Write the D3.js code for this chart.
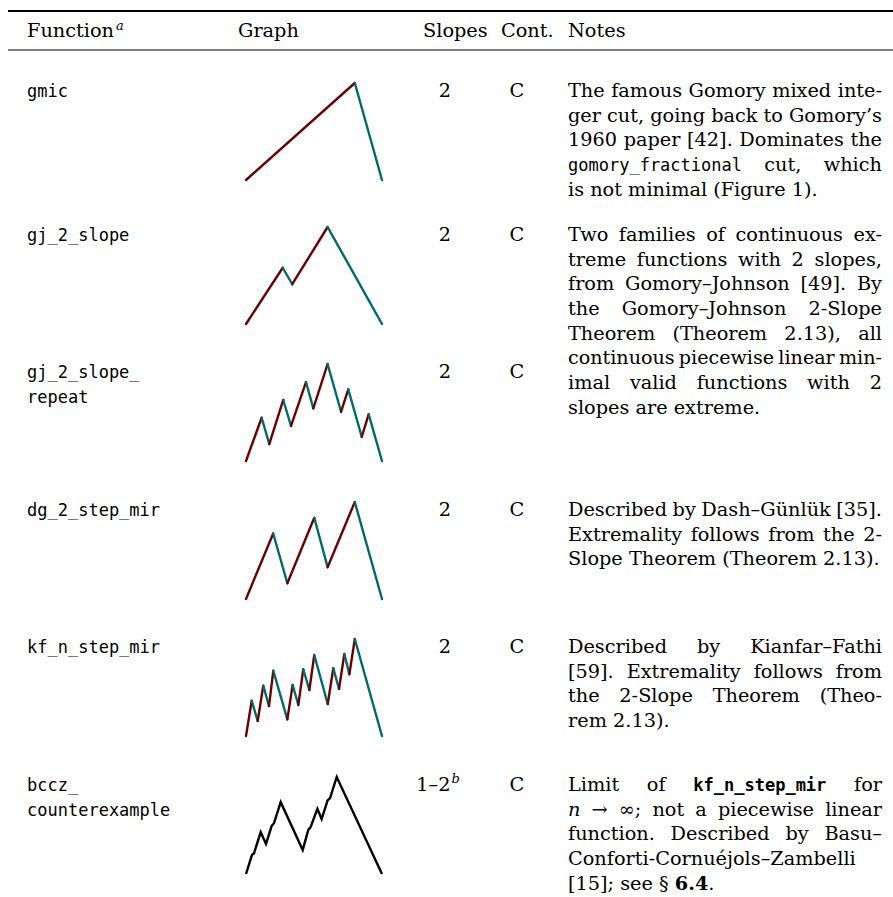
<!DOCTYPE html>
<html>
<head>
<meta charset="utf-8">
<script src="https://cdn.jsdelivr.net/npm/d3@7"></script>
<style>
  body { margin: 0; background: #fff; }
  text { font-family: "DejaVu Serif", serif; font-size: 19.3px; fill: #000; }
  .tt { font-family: "DejaVu Sans Mono", monospace; font-size: 17px; }
  .ttb { font-family: "DejaVu Sans Mono", monospace; font-size: 17px; font-weight: bold; }
  .it { font-style: italic; }
  .bf { font-weight: bold; }
</style>
</head>
<body>
<svg id="chart"></svg>
<script>
// table columns
const headers = ["Function", "Graph", "Slopes", "Cont.", "Notes"];
const functionNames = [["gmic"], ["gj_2_slope"], ["gj_2_slope_", "repeat"], ["dg_2_step_mir"], ["kf_n_step_mir"], ["bccz_", "counterexample"]];
const slopeCounts = ["2", "2", "2", "2", "2", "1–2"];
const slopeMarks = ["", "", "", "", "", "b"];
const continuity = ["C", "C", "C", "C", "C", "C"];

// function graphs, x and y in [0, 1]
const gmicPts = [[0, 0], [0.8, 1], [1, 0]];
const gjSlopePts = [[0, 0], [0.27, 0.58], [0.34, 0.41], [0.6, 1], [1, 0]];
const gjSlopeRepeatPts = [[0, 0], [0.115, 0.446], [0.171, 0.175], [0.274, 0.629], [0.331, 0.361], [0.441, 0.814],
    [0.495, 0.543], [0.6, 1], [0.699, 0.508], [0.752, 0.739], [0.851, 0.25], [0.902, 0.481], [1, 0]];
const dgStepMirPts = [[0, 0], [0.2, 0.675], [0.304, 0.162], [0.502, 0.837], [0.6, 0.328], [0.8, 1], [1, 0]];
const kfStepMirPts = [[0, 0], [0.042, 0.364], [0.086, 0.155], [0.127, 0.519], [0.169, 0.309], [0.201, 0.673],
    [0.304, 0.172], [0.343, 0.526], [0.385, 0.32], [0.421, 0.688], [0.466, 0.474], [0.502, 0.835], [0.601, 0.33],
    [0.642, 0.698], [0.684, 0.485], [0.723, 0.845], [0.76, 0.636], [0.8, 1], [1, 0]];
const bcczPts = [[0, 0], [0.044, 0.197], [0.059, 0.214], [0.108, 0.431], [0.147, 0.31], [0.189, 0.497], [0.206, 0.524],
    [0.255, 0.741], [0.417, 0.248], [0.458, 0.455], [0.475, 0.483], [0.525, 0.672], [0.556, 0.566], [0.6, 0.759],
    [0.618, 0.783], [0.667, 1], [1, 0]];
const graphs = [gmicPts, gjSlopePts, gjSlopeRepeatPts, dgStepMirPts, kfStepMirPts, bcczPts];
const graphColored = [true, true, true, true, true, false];

// notes (`mono`, @bold mono@, *italic*, #bold#)
const notesGmic = ["The famous Gomory mixed inte-", "ger cut, going back to Gomory’s", "1960 paper [42]. Dominates the",
    "`gomory_fractional` cut, which", "is not minimal (Figure 1)."];
const notesGj = ["Two families of continuous ex-", "treme functions with 2 slopes,", "from Gomory–Johnson [49]. By",
    "the Gomory–Johnson 2-Slope", "Theorem (Theorem 2.13), all", "continuous piecewise linear min-",
    "imal valid functions with 2", "slopes are extreme."];
const notesDg = ["Described by Dash–Günlük [35].", "Extremality follows from the 2-", "Slope Theorem (Theorem 2.13)."];
const notesKf = ["Described by Kianfar–Fathi", "[59]. Extremality follows from", "the 2-Slope Theorem (Theo-", "rem 2.13)."];
const notesBccz = ["Limit of @kf_n_step_mir@ for", "*n* → ∞; not a piecewise linear", "function. Described by Basu–",
    "Conforti-Cornuéjols–Zambelli", "[15]; see § #6.4#."];
const notes = [notesGmic, notesGj, [], notesDg, notesKf, notesBccz];

const width = 893, height = 897;
const rowBase = [97, 241, 378, 516, 653, 791];
const lineH = 24.7;
const col = { fn: 27, graph: 238, slopes: 445, cont: 517, notes: 568, notesEnd: 882 };
const red = "#6a0000", teal = "#006a6a";

const svg = d3.select("#chart").attr("width", width).attr("height", height);

// rules
svg.append("line").attr("x1", 8).attr("x2", width).attr("y1", 11).attr("y2", 11)
    .attr("stroke", "#000").attr("stroke-width", 2);
svg.append("line").attr("x1", 8).attr("x2", width).attr("y1", 50).attr("y2", 50)
    .attr("stroke", "#000").attr("stroke-width", 1.2);

// header
const headX = [col.fn, col.graph, 423, 501, col.notes];
headers.forEach((h, i) => {
    const t = svg.append("text").attr("x", headX[i]).attr("y", 37).text(h);
    if (i === 0) {
        t.append("tspan").attr("class", "it").attr("dy", -7).attr("dx", 2)
            .style("font-size", "13px").text("a");
    }
});

// graph scales
const xScale = d3.scaleLinear().domain([0, 1]).range([246, 382]);
const yScale = d3.scaleLinear().domain([0, 1]).range([97, 0]);
const line = d3.line().x(d => xScale(d[0])).y(d => yScale(d[1]));

graphs.forEach((pts, i) => {
    const g = svg.append("g").attr("transform", `translate(0,${rowBase[i] - 14})`);
    if (graphColored[i]) {
        const segs = d3.pairs(pts);
        g.selectAll("path").data(segs).join("path")
            .attr("d", line)
            .attr("fill", "none")
            .attr("stroke", d => d[1][1] > d[0][1] ? red : teal)
            .attr("stroke-width", 2.4)
            .attr("stroke-linecap", "round");
    } else {
        g.append("path").datum(pts)
            .attr("d", line)
            .attr("fill", "none")
            .attr("stroke", "#000")
            .attr("stroke-width", 2.4)
            .attr("stroke-linejoin", "miter");
    }
});

// function names, slopes, continuity
functionNames.forEach((names, i) => {
    names.forEach((n, j) => {
        svg.append("text").attr("class", "tt").attr("x", col.fn).attr("y", rowBase[i] + j * lineH).text(n);
    });
    const s = svg.append("text").attr("x", col.slopes).attr("y", rowBase[i])
        .attr("text-anchor", "middle").text(slopeCounts[i]);
    if (slopeMarks[i]) {
        s.attr("x", col.slopes - 7);
        s.append("tspan").attr("class", "it").attr("dy", -8).attr("dx", 1)
            .style("font-size", "13px").text(slopeMarks[i]);
    }
    svg.append("text").attr("x", col.cont).attr("y", rowBase[i])
        .attr("text-anchor", "middle").text(continuity[i]);
});

// justified notes
const styleOf = { "@": "ttb", "`": "tt", "*": "it", "#": "bf" };
function parseWord(w) {
    const parts = w.match(/(@[^@]+@|`[^`]+`|\*[^*]+\*|#[^#]+#|[^@`*#]+)/g) || [];
    return parts.map(p => styleOf[p[0]] ? { t: p.slice(1, -1), c: styleOf[p[0]] } : { t: p, c: "rm" });
}
function measure(str) {
    const t = svg.append("text").text(str);
    const w = t.node().getComputedTextLength();
    t.remove();
    return w;
}
const spaceW = measure("a a") - 2 * measure("a");
const minGap = spaceW * 0.7;

function drawLine(y, str, justify) {
    const words = str.split(" ");
    const g = svg.append("g");
    const nodes = words.map(w => {
        const t = g.append("text").attr("y", y);
        parseWord(w).forEach(p => t.append("tspan").attr("class", p.c === "rm" ? null : p.c).text(p.t));
        return t;
    });
    const widths = nodes.map(n => n.node().getComputedTextLength());
    const total = d3.sum(widths);
    const avail = col.notesEnd - col.notes;
    let gap = justify && words.length > 1 ? (avail - total) / (words.length - 1) : spaceW;
    let k = 1;
    if (justify && gap < minGap) {
        // too tight: keep a small space and squeeze the line a little
        gap = minGap;
        k = avail / (total + gap * (words.length - 1));
    }
    let x = 0;
    nodes.forEach((n, j) => { n.attr("x", x); x += widths[j] + gap; });
    g.attr("transform", `translate(${col.notes},0) scale(${k},1)`);
}

notes.forEach((lines, i) => {
    lines.forEach((l, j) => drawLine(rowBase[i] + j * lineH, l, j < lines.length - 1));
});
</script>
</body>
</html>
